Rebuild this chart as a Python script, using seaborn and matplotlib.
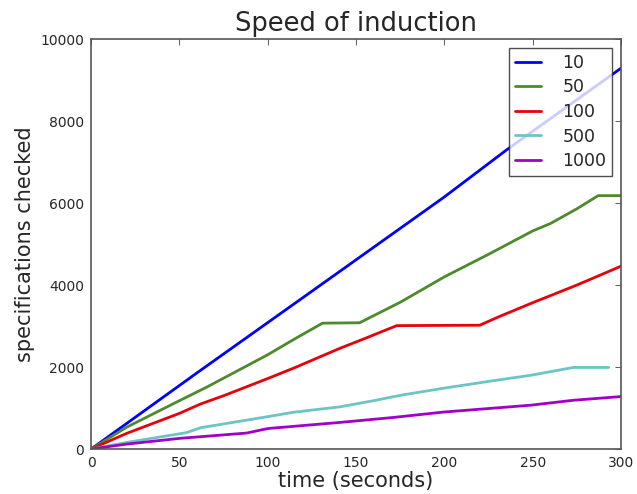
import seaborn as sns
import matplotlib.pyplot as plt
import pandas as pd

# thread counts (legend labels)
labels = ["10", "50", "100", "500", "1000"]
colors = ["#0000ff", "#4c8a2b", "#e8000b", "#6cc4c4", "#a000c8"]

# time (s) / specifications checked
t10 = [0, 20, 60, 126, 200, 235, 300]
v10 = [0, 620, 1860, 3880, 6150, 7290, 9290]

t50 = [0, 20, 50, 65, 100, 115, 131, 152, 175, 200, 225, 250, 260, 275, 287, 300]
v50 = [0, 530, 1180, 1500, 2300, 2680, 3070, 3080, 3580, 4200, 4750, 5320, 5500, 5860, 6180, 6180]

t100 = [0, 20, 50, 62, 75, 100, 115, 141, 154, 173, 220, 231, 250, 275, 300]
v100 = [0, 380, 870, 1100, 1300, 1720, 1980, 2460, 2680, 3010, 3020, 3230, 3570, 4000, 4460]

t500 = [0, 20, 54, 62, 100, 115, 141, 160, 175, 199, 225, 249, 273, 293]
v500 = [0, 160, 400, 520, 790, 900, 1030, 1180, 1310, 1480, 1650, 1800, 1990, 1990]

t1000 = [0, 20, 50, 88, 100, 141, 171, 199, 249, 273, 300]
v1000 = [0, 120, 260, 390, 500, 650, 770, 900, 1070, 1190, 1280]

times = [t10, t50, t100, t500, t1000]
vals = [v10, v50, v100, v500, v1000]

frames = []
for lab, t, v in zip(labels, times, vals):
    frames.append(pd.DataFrame({"time": t, "checked": v, "threads": lab}))
df = pd.concat(frames, ignore_index=True)

sns.set_style("white")
plt.rcParams["font.family"] = ["DejaVu Sans"]
plt.rcParams["xtick.direction"] = "in"
plt.rcParams["ytick.direction"] = "in"

fig = plt.figure(figsize=(6.37, 4.94), dpi=100)
ax = fig.add_axes([0.143, 0.091, 0.832, 0.830])

sns.lineplot(data=df, x="time", y="checked", hue="threads", hue_order=labels,
             palette=colors, estimator=None, sort=False, linewidth=2, ax=ax)

ax.set_xlim(0, 300)
ax.set_ylim(0, 10000)
ax.set_xticks([0, 50, 100, 150, 200, 250, 300])
ax.set_yticks([0, 2000, 4000, 6000, 8000, 10000])
ax.tick_params(axis="both", which="major", direction="in", length=4, width=0.6,
               top=True, right=True, labelsize=10, color="#444444", pad=5)
for sp in ax.spines.values():
    sp.set_color("#555555")
    sp.set_linewidth(1.2)

ax.set_title("Speed of induction", fontsize=18.5, pad=6)
ax.set_xlabel("time (seconds)", fontsize=15, labelpad=1)
ax.set_ylabel("specifications checked", fontsize=15, labelpad=4)

leg = ax.legend(loc="upper right", fontsize=12.5, handlelength=1.5, frameon=True,
                fancybox=False, borderaxespad=0.5, labelspacing=0.38, handletextpad=1.2,
                borderpad=0.35)
leg.get_frame().set_edgecolor("#222222")
leg.get_frame().set_linewidth(1.0)
leg.set_title(None)

fig.savefig("out.png", dpi=100)
